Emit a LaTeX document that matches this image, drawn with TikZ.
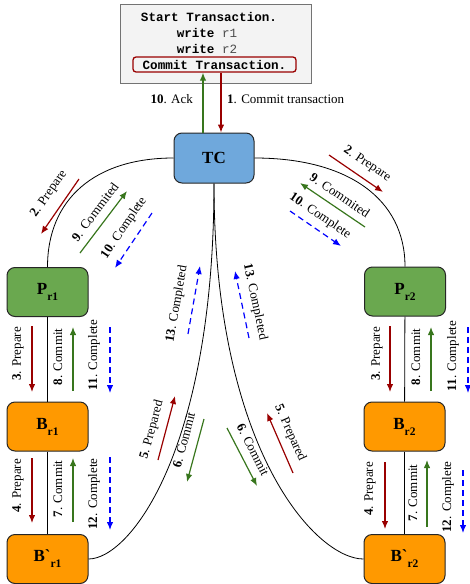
\documentclass[tikz,border=0pt]{standalone}
\usepackage{fontspec}
\setmainfont{Liberation Serif}
\newfontfamily\boxfont{Liberation Serif}[Ligatures=TeXOff]
\newfontfamily\codefont{Liberation Mono}
\usetikzlibrary{arrows.meta}
\definecolor{dred}{HTML}{990000}
\definecolor{dgreen}{HTML}{38761D}
\definecolor{tcblue}{HTML}{6FA8DC}
\definecolor{pgreen}{HTML}{6AA84F}
\definecolor{borange}{HTML}{FF9900}
\definecolor{boxgray}{HTML}{F3F3F3}
\tikzset{
  lbl/.style={font=\fontsize{13}{15}\selectfont, inner sep=0pt},
  redarr/.style={draw=dred, line width=1.2pt, -{Latex[length=8pt,width=6.5pt]}},
  grnarr/.style={draw=dgreen, line width=1.2pt, -{Latex[length=8pt,width=6.5pt]}},
  bluarr/.style={draw=blue, line width=1.2pt, dash pattern=on 6pt off 4pt, -{Latex[length=8pt,width=6.5pt]}},
  rbox/.style={draw=black!85, line width=1pt, rounded corners=8pt, minimum width=81pt, minimum height=49pt, inner sep=0pt, font=\boxfont\bfseries\fontsize{17}{19}\selectfont},
  code/.style={font=\codefont\bfseries\fontsize{12.6}{14}\selectfont, inner sep=0pt},
  conn/.style={draw=black, line width=0.8pt},
}
\newcommand{\sbs}[1]{\raisebox{-6pt}{\fontsize{11.5}{12}\selectfont #1}}
\begin{document}
\begin{tikzpicture}[x=1pt,y=-1pt]
\useasboundingbox (0,0) rectangle (470,584);
% transaction box
\node[draw=black!55, fill=boxgray, line width=1pt, minimum width=191pt, minimum height=79pt, inner sep=0pt] (tx) at (215.5,43.5) {};
\node[code] (t1) at (209,17) {Start Transaction.};
\node[code] (t2) at (207,33) {write \mdseries\color{black!70}r1};
\node[code] (t3) at (207,48.5) {write \mdseries\color{black!70}r2};
\node[code, draw=dred, line width=1.3pt, rounded corners=3pt, minimum width=163pt, minimum height=15pt] (commit) at (214.5,64.5) {Commit Transaction.};
% boxes
\node[rbox, fill=tcblue, minimum width=80pt, minimum height=50pt] (tc) at (214,158) {TC};
\node[rbox, fill=pgreen] (pr1) at (47.5,292) {P\sbs{r1}};
\node[rbox, fill=pgreen] (pr2) at (405,291.5) {P\sbs{r2}};
\node[rbox, fill=borange] (br1) at (47.5,426.5) {B\sbs{r1}};
\node[rbox, fill=borange] (br2) at (404.5,426.5) {B\sbs{r2}};
\node[rbox, fill=borange] (bpr1) at (47.5,559) {B`\sbs{r1}};
\node[rbox, fill=borange] (bpr2) at (404.5,559) {B`\sbs{r2}};
% connectors
\draw[conn] (tc.west) .. controls (95,158) and (47.5,199) .. (pr1.north);
\draw[conn] (tc.east) .. controls (348,158) and (405,199) .. (pr2.north);
\draw[conn] (pr1) -- (br1);
\draw[conn] (br1) -- (bpr1);
\draw[conn] (pr2) -- (br2);
\draw[conn] (br2) -- (bpr2);
\draw[conn] (tc.south) .. controls (214,450) and (130,559) .. (bpr1.east);
\draw[conn] (tc.south) .. controls (214,450) and (316,559) .. (bpr2.west);
% TC <-> transaction
\draw[grnarr] ([xshift=-11pt]tc.north) -- ([xshift=-11.5pt]commit.south);
\draw[redarr] ([xshift=6.5pt]commit.south) -- ([xshift=7pt]tc.north);
\node[lbl, anchor=east] (lack) at (193,99) {\textbf{10}. Ack};
\node[lbl, anchor=west] (lcommit) at (227,99) {\textbf{1}. Commit transaction};
% left arc messages
\coordinate (a2s) at (79,179); \coordinate (a2e) at (41,234);
\coordinate (a9s) at (80,253); \coordinate (a9e) at (127,191);
\coordinate (a10s) at (152,213); \coordinate (a10e) at (115,268);
\draw[redarr] (a2s) -- (a2e);
\draw[grnarr] (a9s) -- (a9e);
\draw[bluarr] (a10s) -- (a10e);
\node[lbl, rotate=55] (l2l) at (49,194) {\textbf{2}. Prepare};
\node[lbl, rotate=53] (l9l) at (95,212) {\textbf{9}. Commited};
\node[lbl, rotate=56] (l10l) at (124,228) {\textbf{10}. Complete};
% right arc messages
\coordinate (b2s) at (329,155); \coordinate (b2e) at (383,192);
\coordinate (b9s) at (365,227); \coordinate (b9e) at (300,183);
\coordinate (b10s) at (290,211); \coordinate (b10e) at (341,246);
\draw[redarr] (b2s) -- (b2e);
\draw[grnarr] (b9s) -- (b9e);
\draw[bluarr] (b10s) -- (b10e);
\node[lbl, rotate=-34] (l2r) at (367,164) {\textbf{2}. Prepare};
\node[lbl, rotate=-34] (l9r) at (340,195) {\textbf{9}. Commited};
\node[lbl, rotate=-34] (l10r) at (320,216) {\textbf{10}. Complete};
% left column
\coordinate (c3s) at (32,326); \coordinate (c3e) at (32,392);
\coordinate (c8s) at (73,391); \coordinate (c8e) at (73,327);
\coordinate (c11s) at (110,327); \coordinate (c11e) at (110,393);
\coordinate (c4s) at (32,458); \coordinate (c4e) at (32,523);
\coordinate (c7s) at (73,522); \coordinate (c7e) at (73,458);
\coordinate (c12s) at (110,457); \coordinate (c12e) at (110,530);
\draw[redarr] (c3s) -- (c3e);
\draw[grnarr] (c8s) -- (c8e);
\draw[bluarr] (c11s) -- (c11e);
\draw[redarr] (c4s) -- (c4e);
\draw[grnarr] (c7s) -- (c7e);
\draw[bluarr] (c12s) -- (c12e);
\node[lbl, rotate=90] (l3l) at (18,354) {\textbf{3}. Prepare};
\node[lbl, rotate=90] (l8l) at (58,357) {\textbf{8}. Commit};
\node[lbl, rotate=90] (l11l) at (94,355) {\textbf{11}. Complete};
\node[lbl, rotate=90] (l4l) at (18,486) {\textbf{4}. Prepare};
\node[lbl, rotate=90] (l7l) at (58,489) {\textbf{7}. Commit};
\node[lbl, rotate=90] (l12l) at (94,494) {\textbf{12}. Complete};
% right column
\coordinate (d3s) at (390,326); \coordinate (d3e) at (390,392);
\coordinate (d8s) at (431,391); \coordinate (d8e) at (431,327);
\coordinate (d11s) at (468,327); \coordinate (d11e) at (468,393);
\coordinate (d4s) at (385,462); \coordinate (d4e) at (385,529);
\coordinate (d7s) at (427,527); \coordinate (d7e) at (427,460);
\coordinate (d12s) at (463,470); \coordinate (d12e) at (463,533);
\draw[redarr] (d3s) -- (d3e);
\draw[grnarr] (d8s) -- (d8e);
\draw[bluarr] (d11s) -- (d11e);
\draw[redarr] (d4s) -- (d4e);
\draw[grnarr] (d7s) -- (d7e);
\draw[bluarr] (d12s) -- (d12e);
\node[lbl, rotate=90] (l3r) at (377,354) {\textbf{3}. Prepare};
\node[lbl, rotate=90] (l8r) at (416,357) {\textbf{8}. Commit};
\node[lbl, rotate=90] (l11r) at (453,356) {\textbf{11}. Complete};
\node[lbl, rotate=90] (l4r) at (370,489) {\textbf{4}. Prepare};
\node[lbl, rotate=90] (l7r) at (413,493) {\textbf{7}. Commit};
\node[lbl, rotate=90] (l12r) at (448,497) {\textbf{12}. Complete};
% middle
\coordinate (m13ls) at (188,334); \coordinate (m13le) at (200,266);
\coordinate (m13rs) at (249,338); \coordinate (m13re) at (235,271);
\coordinate (m5ls) at (158,460); \coordinate (m5le) at (175,396);
\coordinate (m6ls) at (204,419); \coordinate (m6le) at (187,482);
\coordinate (m6rs) at (227,428); \coordinate (m6re) at (257,486);
\coordinate (m5rs) at (293,473); \coordinate (m5re) at (267,413);
\draw[bluarr] (m13ls) -- (m13le);
\draw[bluarr] (m13rs) -- (m13re);
\draw[redarr] (m5ls) -- (m5le);
\draw[grnarr] (m6ls) -- (m6le);
\draw[grnarr] (m6rs) -- (m6re);
\draw[redarr] (m5rs) -- (m5re);
\node[lbl, rotate=80] (l13l) at (177,304) {\textbf{13}. Completed};
\node[lbl, rotate=-78] (l13r) at (255,302) {\textbf{13}. Completed};
\node[lbl, rotate=75] (l5l) at (152,430) {\textbf{5}. Prepared};
\node[lbl, rotate=75] (l6l) at (184,440) {\textbf{6}. Commit};
\node[lbl, rotate=-63] (l6r) at (253,450) {\textbf{6}. Commit};
\node[lbl, rotate=-66] (l5r) at (290,433) {\textbf{5}. Prepared};
\end{tikzpicture}
\end{document}
